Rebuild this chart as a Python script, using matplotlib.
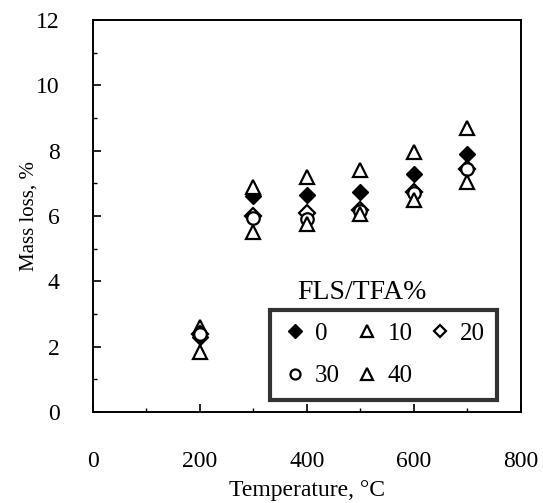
import matplotlib
matplotlib.use("Agg")
import matplotlib.pyplot as plt
from matplotlib.ticker import MultipleLocator

plt.rcParams['font.family'] = ['Liberation Serif', 'DejaVu Serif']

temps = [200, 300, 400, 500, 600, 700]
fls0 = [2.3, 6.6, 6.65, 6.75, 7.3, 7.9]
fls10 = [2.6, 6.9, 7.2, 7.4, 7.95, 8.7]
fls20 = [2.4, 6.0, 6.1, 6.2, 6.75, 7.45]
fls30 = [2.4, 5.95, 5.9, 6.15, 6.7, 7.45]
fls40 = [1.85, 5.5, 5.75, 6.05, 6.5, 7.05]
labels = ["0", "10", "20", "30", "40"]

fig = plt.figure(figsize=(5.43, 5.03), dpi=100)
ax = fig.add_axes([0.171, 0.181, 0.7885, 0.779])

h0, = ax.plot(temps, fls0, 'D', ms=8.5, mfc='black', mec='black', ls='none', label=labels[0])
h1, = ax.plot(temps, fls10, '^', ms=10, mfc='white', mec='black', mew=1.6, ls='none', label=labels[1])
h2, = ax.plot(temps, fls20, 'D', ms=8, mfc='white', mec='black', mew=1.6, ls='none', label=labels[2])
h3, = ax.plot(temps, fls30, 'o', ms=9, mfc='white', mec='black', mew=1.6, ls='none', label=labels[3])
h4, = ax.plot(temps, fls40, '^', ms=10, mfc='white', mec='black', mew=1.6, ls='none', label=labels[4])

ax.set_xlim(0, 800)
ax.set_ylim(0, 12)
ax.xaxis.set_major_locator(MultipleLocator(200))
ax.xaxis.set_minor_locator(MultipleLocator(100))
ax.yaxis.set_major_locator(MultipleLocator(2))
ax.yaxis.set_minor_locator(MultipleLocator(1))
ax.tick_params(which='major', direction='in', length=6, width=1.2, labelsize=17)
ax.tick_params(axis='x', which='major', pad=28)
ax.tick_params(axis='y', which='major', pad=24)
ax.tick_params(which='minor', direction='in', length=3, width=1.0)
for s in ax.spines.values():
    s.set_linewidth(1.4)

ax.set_xlabel("Temperature, °C", fontsize=17, labelpad=6)
ax.set_ylabel("Mass loss, %", fontsize=15)
ax.yaxis.set_label_coords(-0.128, 0.5)

order = [h0, h3, h1, h4, h2]
leg = ax.legend(order, [h.get_label() for h in order], ncol=3,
                loc='lower left', bbox_to_anchor=(0.497, 0.205),
                bbox_transform=fig.transFigure, borderaxespad=0,
                fontsize=18, frameon=True, fancybox=False, edgecolor='black',
                handletextpad=0.3, columnspacing=0.6, borderpad=0.5,
                labelspacing=0.8, handlelength=1.0, markerscale=0.8)
leg.get_frame().set_linewidth(3)
fig.text(0.667, 0.419, "FLS/TFA%", fontsize=20, ha='center', va='center')

fig.savefig("out.png", dpi=100)
